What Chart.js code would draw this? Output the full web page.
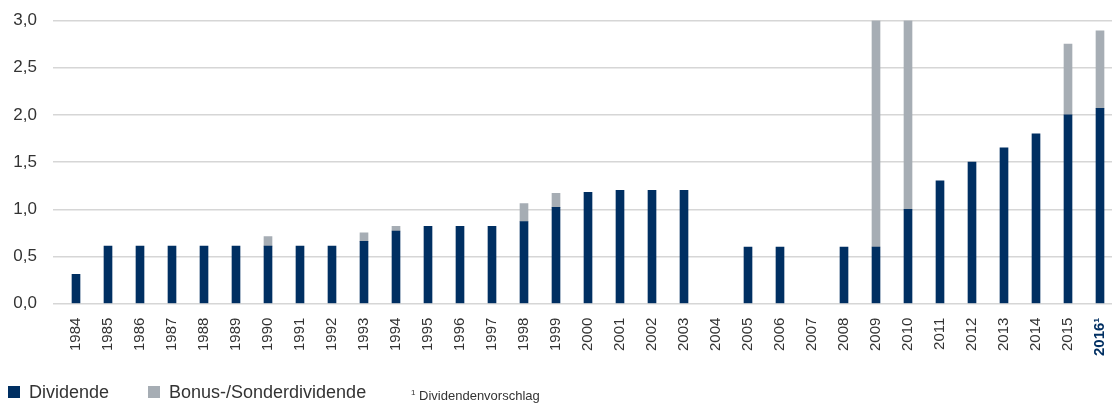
<!DOCTYPE html>
<html>
<head>
<meta charset="utf-8">
<script src="https://cdn.jsdelivr.net/npm/chart.js@4/dist/chart.umd.min.js"></script>
<style>
  body { margin: 0; background: #fff; }
  #wrap { position: relative; width: 1112px; height: 403px; font-family: "Liberation Sans", Arial, sans-serif; color: #333; }
  .item { position: absolute; top: 381px; font-size: 18px; line-height: 22px; white-space: nowrap; }
  .box { position: absolute; top: 5px; left: 0; width: 12px; height: 12px; }
  .item span.t { position: absolute; left: 21px; top: 0; }
  #note { position: absolute; left: 411px; top: 384px; font-size: 13px; line-height: 18px; white-space: nowrap; }
</style>
</head>
<body>
<div id="wrap">
  <canvas id="myChart" width="1112" height="403"></canvas>
  <div class="item" style="left:8px"><span class="box" style="background:#002f62"></span><span class="t">Dividende</span></div>
  <div class="item" style="left:148px"><span class="box" style="background:#a6adb4"></span><span class="t">Bonus-/Sonderdividende</span></div>
  <div id="note"><sup style="font-size:8px">1</sup> Dividendenvorschlag</div>
</div>
<script>
const labels = [
  '1984', '1985', '1986', '1987', '1988', '1989', '1990', '1991', '1992', '1993', '1994',
  '1995', '1996', '1997', '1998', '1999', '2000', '2001', '2002', '2003', '2004', '2005',
  '2006', '2007', '2008', '2009', '2010', '2011', '2012', '2013', '2014', '2015', '2016¹'
];

const dividende = [
  0.31, 0.61, 0.61, 0.61, 0.61, 0.61, 0.61, 0.61, 0.61, 0.66, 0.77,
  0.82, 0.82, 0.82, 0.87, 1.02, 1.18, 1.20, 1.20, 1.20, null, 0.60,
  0.60, null, 0.60, 0.60, 1.00, 1.30, 1.50, 1.65, 1.80, 2.00, 2.07
];

const bonus = [
  null, null, null, null, null, null, 0.10, null, null, 0.09, 0.05,
  null, null, null, 0.19, 0.15, null, null, null, null, null, null,
  null, null, null, 2.40, 2.00, null, null, null, null, 0.75, 0.82
];

const yTicks = [0, 0.5, 1.0, 1.5, 2.0, 2.5, 3.0];

const navy = '#002f62';
const grey = '#a6adb4';
const font = '"Liberation Sans", Arial, sans-serif';

// the categories run a few px past the canvas edge in the original
const stretchX = {
  id: 'stretchX',
  afterLayout: chart => {
    const x = chart.scales.x;
    x.right = chart.width + 4;
    x.width = x.right - x.left;
    x.configure();
  }
};

const data = {
  labels: labels,
  datasets: [
    {
      label: 'Dividende',
      backgroundColor: navy,
      borderWidth: 0,
      barThickness: 8,
      data: dividende
    },
    {
      label: 'Bonus-/Sonderdividende',
      backgroundColor: grey,
      borderWidth: 0,
      barThickness: 8,
      data: bonus
    }
  ]
};

const config = {
  type: 'bar',
  data: data,
  options: {
    responsive: false,
    animation: false,
    layout: {
      padding: { top: 20.5, right: 0, bottom: 41, left: 0 }
    },
    plugins: {
      tooltip: { enabled: false },
      legend: { display: false }
    },
    scales: {
      x: {
        stacked: true,
        afterFit: s => { s.paddingLeft = 0; s.paddingRight = 0; },
        grid: { display: false },
        border: { display: false },
        ticks: {
          minRotation: 90,
          maxRotation: 90,
          autoSkip: false,
          padding: 6,
          color: c => c.index === labels.length - 1 ? navy : '#333',
          font: c => ({ family: font, size: 15, weight: c.index === labels.length - 1 ? 'bold' : 'normal' })
        }
      },
      y: {
        stacked: true,
        min: 0,
        max: 3,
        afterFit: s => {
          s.width = 60;
          s.paddingTop = 0;
          s.paddingBottom = 0;
        },
        afterBuildTicks: s => { s.ticks = yTicks.map(v => ({ value: v })); },
        border: { display: false },
        grid: {
          color: '#d6d6d6',
          lineWidth: 1.5,
          drawTicks: true,
          tickLength: 7
        },
        ticks: {
          padding: 16,
          color: '#333',
          font: { family: font, size: 17 },
          callback: v => v.toFixed(1).replace('.', ',')
        }
      }
    }
  },
  plugins: [stretchX]
};

const myChart = new Chart(
  document.getElementById('myChart'),
  config
);
</script>
</body>
</html>
